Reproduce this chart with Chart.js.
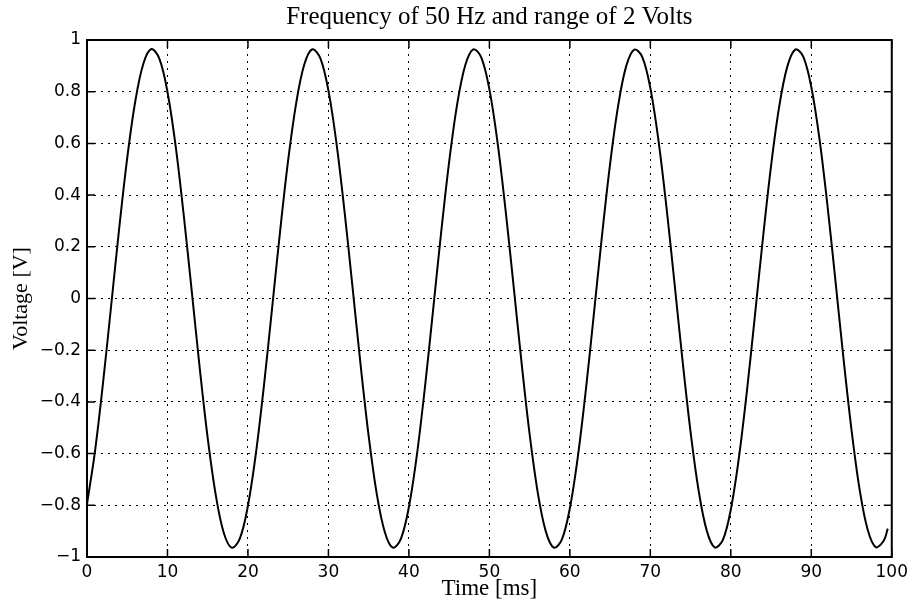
<!DOCTYPE html>
<html>
<head>
<meta charset="utf-8">
<title>Frequency of 50 Hz and range of 2 Volts</title>
<script src="https://cdn.jsdelivr.net/npm/chart.js@4.4.1/dist/chart.umd.min.js"></script>
<style>
  html, body { margin: 0; padding: 0; background: #fff; }
  canvas { display: block; }
</style>
</head>
<body>
<canvas id="sineChart" width="913" height="601"></canvas>
<script>
// sample times in ms
const times = [
    0, 1, 2, 3, 4, 5, 6, 7, 8, 9,
    10, 11, 12, 13, 14, 15, 16, 17, 18, 19,
    20, 21, 22, 23, 24, 25, 26, 27, 28, 29,
    30, 31, 32, 33, 34, 35, 36, 37, 38, 39,
    40, 41, 42, 43, 44, 45, 46, 47, 48, 49,
    50, 51, 52, 53, 54, 55, 56, 57, 58, 59,
    60, 61, 62, 63, 64, 65, 66, 67, 68, 69,
    70, 71, 72, 73, 74, 75, 76, 77, 78, 79,
    80, 81, 82, 83, 84, 85, 86, 87, 88, 89,
    90, 91, 92, 93, 94, 95, 96, 97, 98, 99, 99.5
];

// voltage in V at each sample time
const voltage = [
    -0.796, -0.589, -0.324, -0.028, 0.271, 0.544, 0.763, 0.908, 0.965, 0.927,
    0.799, 0.593, 0.328, 0.033, -0.267, -0.540, -0.760, -0.907, -0.964, -0.928,
    -0.801, -0.596, -0.333, -0.037, 0.262, 0.536, 0.757, 0.905, 0.964, 0.929,
    0.804, 0.600, 0.337, 0.042, -0.258, -0.532, -0.755, -0.903, -0.964, -0.930,
    -0.806, -0.603, -0.341, -0.046, 0.254, 0.529, 0.752, 0.902, 0.964, 0.932,
    0.809, 0.607, 0.345, 0.051, -0.249, -0.525, -0.749, -0.900, -0.964, -0.933,
    -0.811, -0.610, -0.350, -0.055, 0.245, 0.521, 0.746, 0.899, 0.963, 0.934,
    0.814, 0.614, 0.354, 0.060, -0.240, -0.517, -0.743, -0.897, -0.963, -0.935,
    -0.816, -0.617, -0.358, -0.064, 0.236, 0.513, 0.740, 0.895, 0.963, 0.936,
    0.818, 0.621, 0.362, 0.069, -0.232, -0.509, -0.738, -0.894, -0.962, -0.937, -0.890
];

const xTicks = [0, 10, 20, 30, 40, 50, 60, 70, 80, 90, 100];
const yTicks = [-1, -0.8, -0.6, -0.4, -0.2, 0, 0.2, 0.4, 0.6, 0.8, 1];

const tickFont = { family: 'DejaVu Sans', size: 17 };

function fmt(v) {
    const s = String(Number(Math.abs(v).toFixed(1)));
    return v < -1e-9 ? '\u2212' + s : s;
}

// box round the plot and inward tick marks on all four sides
const matlabBox = {
    id: 'matlabBox',
    afterDraw(chart) {
        const { ctx, chartArea: a, scales } = chart;
        const len = 8;
        ctx.save();
        ctx.strokeStyle = '#000';
        ctx.lineWidth = 1.5;
        ctx.beginPath();
        xTicks.forEach(t => {
            const px = scales.x.getPixelForValue(t);
            ctx.moveTo(px, a.bottom); ctx.lineTo(px, a.bottom - len);
            ctx.moveTo(px, a.top); ctx.lineTo(px, a.top + len);
        });
        yTicks.forEach(t => {
            const py = scales.y.getPixelForValue(t);
            ctx.moveTo(a.left, py); ctx.lineTo(a.left + len, py);
            ctx.moveTo(a.right, py); ctx.lineTo(a.right - len, py);
        });
        ctx.stroke();
        ctx.lineWidth = 2;
        ctx.strokeRect(a.left, a.top, a.right - a.left, a.bottom - a.top);
        ctx.restore();
    }
};

Chart.defaults.color = '#000';

new Chart(document.getElementById('sineChart').getContext('2d'), {
    type: 'line',
    data: {
        datasets: [{
            data: times.map((t, i) => ({ x: t, y: voltage[i] })),
            borderColor: '#000',
            borderWidth: 2,
            pointRadius: 0,
            tension: 0.35,
            fill: false
        }]
    },
    options: {
        responsive: false,
        animation: false,
        layout: { padding: { left: 0, right: 20, top: 0, bottom: 0 } },
        plugins: {
            legend: { display: false },
            tooltip: { enabled: false },
            title: {
                display: true,
                text: 'Frequency of 50 Hz and range of 2 Volts',
                fullSize: false,
                font: { family: 'Liberation Serif', size: 25, weight: 'normal' },
                color: '#000',
                padding: { top: 2.5, bottom: 7.5 }
            }
        },
        scales: {
            x: {
                type: 'linear',
                min: 0,
                max: 100,
                afterBuildTicks: s => { s.ticks = xTicks.map(v => ({ value: v })); },
                afterFit: s => { s.height = 44; },
                ticks: { font: tickFont, padding: 5, maxRotation: 0, callback: v => fmt(v) },
                grid: { color: '#000', lineWidth: 1, drawTicks: false },
                border: { display: false, dash: [2, 5] },
                title: {
                    display: true,
                    text: 'Time [ms]',
                    font: { family: 'Liberation Serif', size: 23 },
                    padding: { top: 0, bottom: -2 }
                }
            },
            y: {
                min: -1,
                max: 1,
                afterBuildTicks: s => { s.ticks = yTicks.map(v => ({ value: v })); },
                afterFit: s => { s.width = 87; },
                ticks: { font: tickFont, padding: 6, callback: v => fmt(v) },
                grid: { color: '#000', lineWidth: 1, drawTicks: false },
                border: { display: false, dash: [2, 5] },
                title: {
                    display: true,
                    text: 'Voltage [V]',
                    font: { family: 'Liberation Serif', size: 22 },
                    padding: { top: 8, bottom: 0 }
                }
            }
        }
    },
    plugins: [matlabBox]
});
</script>
</body>
</html>
